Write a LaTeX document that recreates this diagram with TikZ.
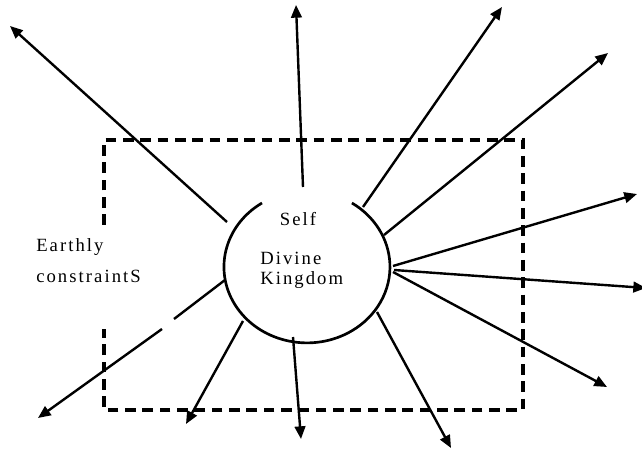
\documentclass[tikz,border=0pt]{standalone}
\usepackage{fontspec}
\setmainfont{Liberation Serif}
\newfontfamily\spacedfont[LetterSpace=11]{Liberation Serif}
\usetikzlibrary{arrows.meta}
\tikzset{
  ray/.style={line width=1.8pt, -{Triangle[length=9.5pt,width=8pt]}},
  rayseg/.style={line width=1.8pt},
  frame/.style={line width=2.9pt, dash pattern=on 8pt off 5pt},
  soul/.style={line width=2pt},
  lbl/.style={inner sep=0pt, font=\spacedfont\fontsize{14pt}{16pt}\selectfont}
}
\begin{document}
\begin{tikzpicture}[x=0.75pt,y=0.75pt]
\useasboundingbox (0,0) rectangle (642,-452);
% dashed frame with a gap on the left side
\draw[frame] (104,-225) -- (104,-140) -- (523,-140) -- (523,-410) -- (104,-410) -- (104,-329);
% the self circle, open at the top
\draw[soul] (262,-203) arc[start angle=122.8, end angle=417.2, x radius=83, y radius=76];
% texts
\node[lbl, anchor=base] (self) at (298,-226) {Self};
\node[lbl, anchor=base west] (divine) at (260,-264) {Divine};
\node[lbl, anchor=base west] (kingdom) at (260,-284) {Kingdom};
\node[lbl, anchor=base west] (earthly) at (36,-252) {Earthly};
\node[lbl, anchor=base west] (constraints) at (36,-282) {constraintS};
% start points on the circle
\coordinate (s1) at (227,-222);
\coordinate (s2) at (303,-187);
\coordinate (s3) at (363,-207);
\coordinate (s4) at (384,-235);
\coordinate (s5) at (393,-266);
\coordinate (s6) at (394,-270);
\coordinate (s7) at (393,-272);
\coordinate (s8) at (377,-312);
\coordinate (s9) at (293,-337);
\coordinate (s10) at (243,-321);
\coordinate (s11) at (225,-280);
\coordinate (g1) at (174,-319);
\coordinate (g2) at (162,-329);
% tips
\coordinate (t1) at (10,-26);
\coordinate (t2) at (296,-5);
\coordinate (t3) at (502,-7);
\coordinate (t4) at (608,-53);
\coordinate (t5) at (637,-194);
\coordinate (t6) at (646,-288);
\coordinate (t7) at (607,-387);
\coordinate (t8) at (451,-448);
\coordinate (t9) at (301,-439);
\coordinate (t10) at (186,-424);
\coordinate (t11) at (38,-418);
% rays
\draw[ray] (s1) -- (t1);
\draw[ray] (s2) -- (t2);
\draw[ray] (s3) -- (t3);
\draw[ray] (s4) -- (t4);
\draw[ray] (s5) -- (t5);
\draw[ray] (s6) -- (t6);
\draw[ray] (s7) -- (t7);
\draw[ray] (s8) -- (t8);
\draw[ray] (s9) -- (t9);
\draw[ray] (s10) -- (t10);
\draw[rayseg] (s11) -- (g1);
\draw[ray] (g2) -- (t11);
\end{tikzpicture}
\end{document}
